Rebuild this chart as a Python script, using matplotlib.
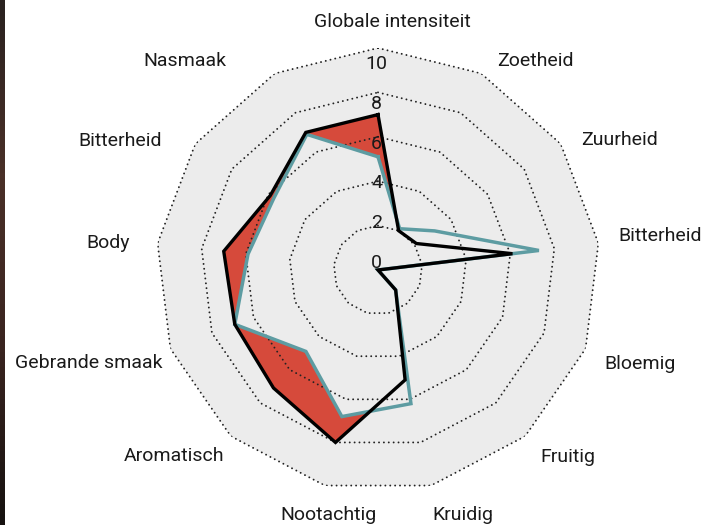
import numpy as np
import matplotlib
matplotlib.use("Agg")
import matplotlib.pyplot as plt
from matplotlib.colors import LinearSegmentedColormap

plt.rcParams['font.family'] = ['Roboto', 'DejaVu Sans']

# ---- data ----
categories = ['Globale intensiteit', 'Zoetheid', 'Zuurheid', 'Bitterheid', 'Bloemig',
              'Fruitig', 'Kruidig', 'Nootachtig', 'Aromatisch', 'Gebrande smaak',
              'Body', 'Bitterheid', 'Nasmaak']
profile_black = [7.0, 2.0, 2.1, 6.1, 0.0, 1.2, 5.1, 8.0, 7.1, 6.9, 7.0, 5.9, 7.0]
profile_teal = [5.1, 2.1, 3.1, 7.3, 0.0, 1.2, 6.2, 6.8, 4.9, 6.9, 5.9, 5.7, 6.9]
rticks = [0, 2, 4, 6, 8, 10]

W, H = 706, 525
CX, CY, R = 378, 270, 222  # centre & radius in pixels (from top-left)

fig = plt.figure(figsize=(W / 100, H / 100), dpi=100)
fig.patch.set_facecolor('white')

# dark strip at the left edge
strip = fig.add_axes([0, 0, 5 / W, 1])
cmap = LinearSegmentedColormap.from_list('s', ['#2a2220', '#4a3028', '#3a2420', '#161210'])
strip.imshow(np.linspace(0, 1, 100).reshape(-1, 1), aspect='auto', cmap=cmap)
strip.axis('off')

ax = fig.add_axes([(CX - R) / W, (H - CY - R) / H, 2 * R / W, 2 * R / H], projection='polar')
ax.set_theta_offset(np.pi / 2)
ax.set_theta_direction(-1)
ax.set_ylim(0, 10)
ax.set_xticks([])
ax.set_yticks([])
ax.grid(False)
ax.spines['polar'].set_visible(False)
ax.patch.set_alpha(0)

n = len(categories)
ang = np.arange(n) * 2 * np.pi / n
angc = np.append(ang, ang[0])

# background polygon
ax.fill(angc, [10] * (n + 1), color='#ececec', zorder=0, lw=0)

b = np.append(profile_black, profile_black[0])
t = np.append(profile_teal, profile_teal[0])

ax.fill(angc, b, color='#d64a3b', zorder=2, lw=0)
ax.fill(angc, t, color='#ececec', zorder=3, lw=0)

# dotted polygon grid (drawn over the fills)
for r in rticks[1:]:
    ax.plot(angc, [r] * (n + 1), color='#222222', lw=1.4, dashes=(0.01, 2.5),
            dash_capstyle='round', zorder=3.5)

ax.plot(angc, t, color='#5d9ca2', lw=2.5, zorder=4, solid_joinstyle='miter')
ax.plot(angc, b, color='#000000', lw=2.4, zorder=5, solid_joinstyle='miter')

# overlay axes in pixel coordinates for text
ov = fig.add_axes([0, 0, 1, 1])
ov.set_xlim(0, W)
ov.set_ylim(H, 0)
ov.axis('off')
ov.patch.set_alpha(0)

# radial tick labels along the vertical axis
for v in rticks:
    ov.text(CX - 1.5, 263 - 19.9 * v, str(v), ha='center', va='center',
            fontsize=14, color='#1a1a1a', zorder=10)

# category label offsets from the centre (pixels, x right / y up)
label_offsets = [(14, 248), (157, 209), (241, 130), (282, 34), (262, -94),
                 (190, -187), (85, -245), (-50, -245), (-204, -186), (-289, -93),
                 (-270, 27), (-258, 129), (-193, 209)]
for lab, (dx, dy) in zip(categories, label_offsets):
    ov.text(CX + dx, CY - dy, lab, ha='center', va='center', fontsize=14, color='#1a1a1a')

fig.savefig('out.png', dpi=100)
